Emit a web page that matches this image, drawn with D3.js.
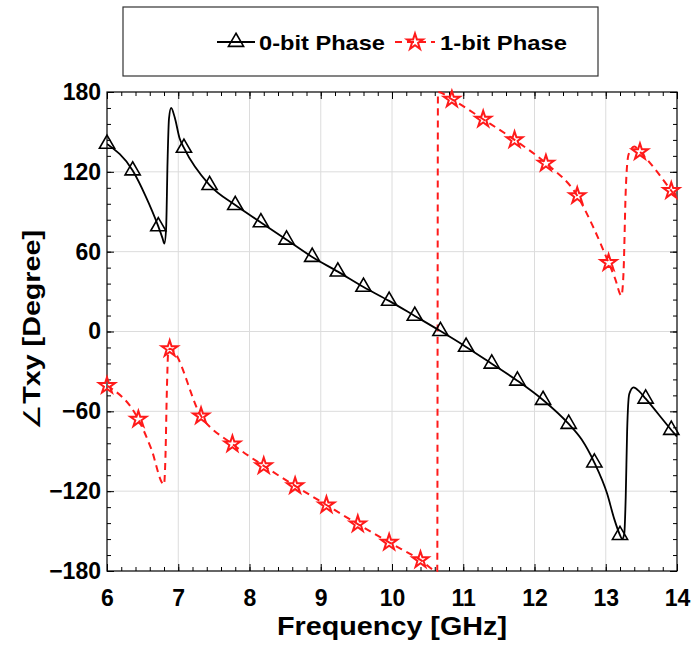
<!DOCTYPE html>
<html>
<head>
<meta charset="utf-8">
<script src="https://cdn.jsdelivr.net/npm/d3@7/dist/d3.min.js"></script>
<style>
  html, body { margin: 0; padding: 0; background: #fff; }
  svg { display: block; }
  text { font-family: "Liberation Sans", Arial, Helvetica, sans-serif; font-weight: bold; fill: #000; }
</style>
</head>
<body>
<svg id="chart" width="696" height="648"></svg>
<script>
// Transmission phase of the unit cell, 0-bit and 1-bit states (degrees vs GHz)

// 0-bit phase: marker samples
const freq0Marks  = [6.00, 6.36, 6.72, 7.08, 7.44, 7.80, 8.16, 8.52, 8.88, 9.24, 9.60, 9.96,
                     10.32, 10.68, 11.04, 11.40, 11.76, 12.12, 12.48, 12.84, 13.20, 13.56, 13.92];
const phase0Marks = [141, 121, 79, 138, 110, 95, 82, 69, 56, 45, 33.5, 23,
                     11.7, 0.3, -11.6, -24.2, -37, -51.5, -69.5, -98.5, -153, -50.5, -74];
// 0-bit phase: additional samples of the swept curve (resonances, end point)
const freq0Curve  = [6.54, 6.78, 6.805, 6.83, 6.85, 6.87, 6.90, 6.95, 7.02,
                     12.66, 13.02, 13.12, 13.23, 13.26, 13.28, 13.30, 13.33, 13.39, 13.47, 14.00];
const phase0Curve = [102, 70, 66, 78, 128, 160, 168, 161, 145,
                     -81, -122, -141, -156, -152, -125, -75, -47, -42, -45, -79];

// 1-bit phase: marker samples
const freq1Marks  = [6.00, 6.44, 6.88, 7.32, 7.76, 8.20, 8.64, 9.08, 9.52, 9.96,
                     10.40, 10.84, 11.28, 11.72, 12.16, 12.60, 13.04, 13.48, 13.92];
const phase1Marks = [-40.7, -66, -13, -63.5, -84.6, -101, -116, -130.4, -144.7, -158.5,
                     -171.7, 174.5, 159.5, 144, 126.4, 102, 51.7, 135, 105.8];
// 1-bit phase: additional samples (resonances, phase wrap at ±180, end point)
const freq1Curve  = [6.62, 6.80, 6.82, 6.84, 6.86, 10.635, 10.645,
                     12.82, 13.13, 13.22, 13.25, 13.28, 13.32, 13.40, 14.00];
const phase1Curve = [-88, -115, -95, -45, -15, -180, 180,
                     79, 40, 27, 45, 105, 133, 139, 100];

const xTicks = [6, 7, 8, 9, 10, 11, 12, 13, 14];
const yTicks = [-180, -120, -60, 0, 60, 120, 180];
const seriesNames = ["0-bit Phase", "1-bit Phase"];

const svg = d3.select("#chart");
const plotL = 107, plotR = 677, plotT = 92, plotB = 571;

const x = d3.scaleLinear().domain([6, 14]).range([plotL, plotR]);
const y = d3.scaleLinear().domain([-180, 180]).range([plotB, plotT]);

// grid
const grid = svg.append("g").attr("stroke", "#dcdcdc").attr("stroke-width", 1);
xTicks.slice(1, -1).forEach(v => grid.append("line")
  .attr("x1", x(v)).attr("x2", x(v)).attr("y1", plotT).attr("y2", plotB));
yTicks.slice(1, -1).forEach(v => grid.append("line")
  .attr("x1", plotL).attr("x2", plotR).attr("y1", y(v)).attr("y2", y(v)));

// axes with inward ticks on all four sides
const xMinor = d3.range(6, 14.0001, 0.2);
const yMinor = d3.range(-180, 180.0001, 12);
function addAxis(axis, transform) {
  const g = svg.append("g").attr("transform", transform).call(axis);
  g.select(".domain").remove();
  g.selectAll("line").attr("stroke", "#000");
  return g;
}
addAxis(d3.axisBottom(x).tickValues(xMinor).tickSize(-4).tickFormat(""), `translate(0,${plotB})`);
addAxis(d3.axisTop(x).tickValues(xMinor).tickSize(-4).tickFormat(""), `translate(0,${plotT})`);
addAxis(d3.axisLeft(y).tickValues(yMinor).tickSize(-4).tickFormat(""), `translate(${plotL},0)`);
addAxis(d3.axisRight(y).tickValues(yMinor).tickSize(-4).tickFormat(""), `translate(${plotR},0)`);

const xAx = addAxis(d3.axisBottom(x).tickValues(xTicks).tickSize(-7).tickPadding(19).tickFormat(d3.format("d")),
  `translate(0,${plotB})`);
xAx.selectAll("text").attr("font-size", 23).attr("font-family", "Liberation Sans, Arial, sans-serif")
  .attr("font-weight", "bold");
addAxis(d3.axisTop(x).tickValues(xTicks).tickSize(-7).tickFormat(""), `translate(0,${plotT})`);
const yAx = addAxis(d3.axisLeft(y).tickValues(yTicks).tickSize(-7).tickPadding(-2).tickFormat(d3.format("d")),
  `translate(${plotL},0)`);
yAx.selectAll("text").attr("font-size", 23).attr("font-family", "Liberation Sans, Arial, sans-serif")
  .attr("font-weight", "bold").attr("dx", "-8");
addAxis(d3.axisRight(y).tickValues(yTicks).tickSize(-7).tickFormat(""), `translate(${plotR},0)`);

svg.append("rect").attr("x", plotL).attr("y", plotT).attr("width", plotR - plotL).attr("height", plotB - plotT)
  .attr("fill", "none").attr("stroke", "#000").attr("stroke-width", 1.2);

// series
function merged(fm, pm, fc, pc) {
  const pts = fm.map((f, i) => [f, pm[i]]).concat(fc.map((f, i) => [f, pc[i]]));
  return pts.sort((a, b) => a[0] - b[0]);
}
const line = d3.line().x(d => x(d[0])).y(d => y(d[1])).curve(d3.curveMonotoneX);
svg.append("clipPath").attr("id", "plotClip").append("rect")
  .attr("x", plotL).attr("y", plotT - 1).attr("width", plotR - plotL).attr("height", plotB - plotT + 2);

const plot = svg.append("g").attr("clip-path", "url(#plotClip)");
plot.append("path").datum(merged(freq1Marks, phase1Marks, freq1Curve, phase1Curve))
  .attr("d", line).attr("fill", "none").attr("stroke", "#ff1a1a").attr("stroke-width", 2)
  .attr("stroke-dasharray", "7,5");
plot.append("path").datum(merged(freq0Marks, phase0Marks, freq0Curve, phase0Curve))
  .attr("d", line).attr("fill", "none").attr("stroke", "#000").attr("stroke-width", 1.8);

const tri = d3.symbol().type(d3.symbolTriangle).size(100);
const star = d3.symbol().type(d3.symbolStar).size(80);

svg.append("g").selectAll("path").data(freq0Marks.map((f, i) => [f, phase0Marks[i]])).join("path")
  .attr("transform", d => `translate(${x(d[0])},${y(d[1])})`)
  .attr("d", tri).attr("fill", "none").attr("stroke", "#000").attr("stroke-width", 1.6);
svg.append("g").selectAll("path").data(freq1Marks.map((f, i) => [f, phase1Marks[i]])).join("path")
  .attr("transform", d => `translate(${x(d[0])},${y(d[1])})`)
  .attr("d", star).attr("fill", "none").attr("stroke", "#ff1a1a").attr("stroke-width", 2);

// axis titles
svg.append("text").attr("x", 392).attr("y", 635).attr("text-anchor", "middle")
  .attr("font-size", 26).attr("textLength", 230).attr("lengthAdjust", "spacingAndGlyphs")
  .text("Frequency [GHz]");
const yTitle = svg.append("text").attr("transform", "translate(40,330) rotate(-90)")
  .attr("text-anchor", "middle").attr("font-size", 23)
  .attr("textLength", 200).attr("lengthAdjust", "spacingAndGlyphs");
yTitle.append("tspan").attr("font-weight", "normal").text("∠");
yTitle.append("tspan").text("Txy [Degree]");

// legend
const lg = svg.append("g");
lg.append("rect").attr("x", 123).attr("y", 7).attr("width", 475).attr("height", 69)
  .attr("fill", "#fff").attr("stroke", "#333").attr("stroke-width", 1.2);
lg.append("line").attr("x1", 217).attr("x2", 255).attr("y1", 42).attr("y2", 42)
  .attr("stroke", "#000").attr("stroke-width", 1.8);
lg.append("path").attr("transform", "translate(236,42)").attr("d", tri)
  .attr("fill", "none").attr("stroke", "#000").attr("stroke-width", 1.6);
lg.append("text").attr("x", 259).attr("y", 50).attr("font-size", 21)
  .attr("textLength", 126).attr("lengthAdjust", "spacingAndGlyphs").text(seriesNames[0]);
lg.append("line").attr("x1", 395).attr("x2", 435).attr("y1", 42).attr("y2", 42)
  .attr("stroke", "#ff1a1a").attr("stroke-width", 2).attr("stroke-dasharray", "7,5");
lg.append("path").attr("transform", "translate(415,42)").attr("d", star)
  .attr("fill", "none").attr("stroke", "#ff1a1a").attr("stroke-width", 2);
lg.append("text").attr("x", 440).attr("y", 50).attr("font-size", 21)
  .attr("textLength", 127).attr("lengthAdjust", "spacingAndGlyphs").text(seriesNames[1]);
</script>
</body>
</html>
